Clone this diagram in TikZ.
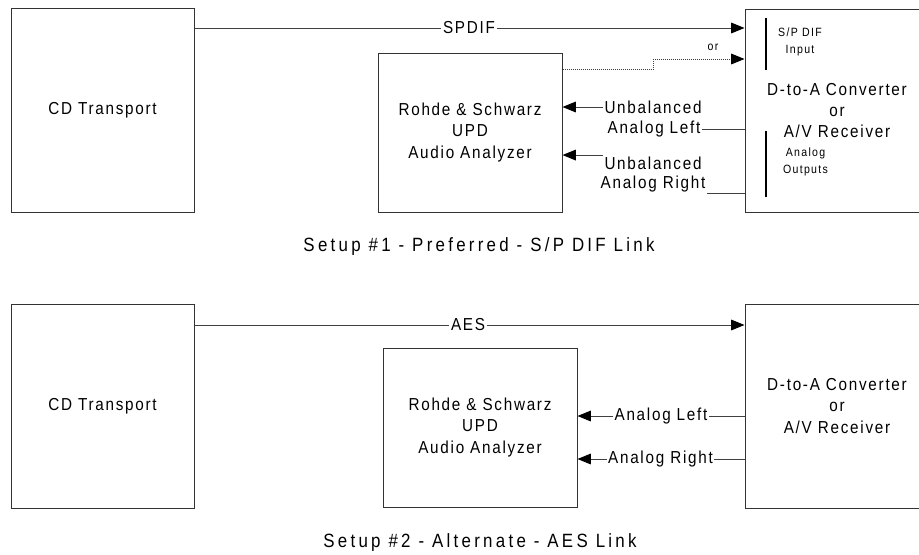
\documentclass[tikz,border=0pt]{standalone}
\usepackage{fontspec}
\setmainfont[LetterSpace=10, FakeStretch=0.88]{Liberation Sans}
\newfontfamily\captionface[LetterSpace=17, FakeStretch=0.88]{Liberation Sans}
\newfontfamily\smallface[LetterSpace=11, FakeStretch=0.88]{Liberation Sans}
\usetikzlibrary{arrows.meta}

\newcommand{\boxfont}{\fontsize{13}{16}\selectfont}
\newcommand{\notefont}{\smallface\fontsize{9}{12.75}\selectfont}
\newcommand{\capfont}{\captionface\fontsize{14.4}{16}\selectfont}

\begin{document}
\begin{tikzpicture}[x=0.75pt, y=-0.75pt,
        unit/.style={draw=black!80, line width=0.75pt, align=center, inner sep=0pt, font=\boxfont},
        lbl/.style={inner sep=1pt, font=\boxfont, align=center},
        note/.style={inner sep=0pt, font=\notefont, align=center},
        wire/.style={draw=black!75, line width=0.75pt},
        arr/.style={wire, -{Triangle[length=10pt,width=8pt,black]}},
        dotwire/.style={arr, dash pattern=on 0.75pt off 0.75pt},
        bar/.style={draw=black, line width=1.5pt}]
        \clip (0,0) rectangle (919,554);

% Setup 1
\node[unit, minimum width=137.25pt, minimum height=153pt] (cdA) at (102.5,110) {CD Transport};
\node[unit, minimum width=138pt, minimum height=119.25pt] (anaA) at (470,132.5) {Rohde \& Schwarz\\UPD\\Audio Analyzer};
\node[unit, minimum width=138pt, minimum height=152.25pt] (dacA) at (837,110.5) {D-to-A Converter\\or\\A/V Receiver};
\draw[bar] (766,18) -- (766,70);
\draw[bar] (766,131) -- (766,197);
\node[note] (spdifin) at (800,41.5) {S/P DIF\\Input};
\node[note] (anaout) at (805.5,161.5) {Analog\\Outputs};

\node[lbl] (spdif) at (469,28) {SPDIF};
\draw[wire] (cdA.east |- spdif) -- (spdif.west);
\draw[arr] (spdif.east) -- (spdif -| dacA.west);

\coordinate (orA1) at (653,69);
\coordinate (orA2) at (653,59);
\draw[dotwire] (anaA.east |- orA1) -- (orA1) -- (orA2) -- (orA2 -| dacA.west);
\node[note] (orA) at (713,47) {or};

\node[lbl] (ulA1) at (653,107) {Unbalanced};
\node[lbl] (ulA2) at (654,129) {Analog Left};
\draw[arr] (ulA1.west) -- (ulA1.west -| anaA.east);
\draw[wire] (ulA2.east) -- (ulA2.east -| dacA.west);
\node[lbl] (urA1) at (653,163) {Unbalanced};
\node[lbl] (urA2) at (653,184) {Analog Right};
\draw[arr] (urA1.north west) -- (urA1.north west -| anaA.east);
\draw[wire] (urA2.south east) -- (urA2.south east -| dacA.west);

\node[font=\capfont] (capA) at (479,247) {Setup \#1 - Preferred - S/P DIF Link};

% Setup 2
\node[unit, minimum width=137.25pt, minimum height=153pt] (cdB) at (102.5,406) {CD Transport};
\node[unit, minimum width=145.5pt, minimum height=119.25pt] (anaB) at (480,427.5) {Rohde \& Schwarz\\UPD\\Audio Analyzer};
\node[unit, minimum width=138pt, minimum height=153pt] (dacB) at (837,406) {D-to-A Converter\\or\\A/V Receiver};

\node[lbl] (aes) at (468,325) {AES};
\draw[wire] (cdB.east |- aes) -- (aes.west);
\draw[arr] (aes.east) -- (aes -| dacB.west);

\node[lbl] (alB) at (661,416) {Analog Left};
\draw[arr] (alB.west) -- (alB.west -| anaB.east);
\draw[wire] (alB.east) -- (alB.east -| dacB.west);
\node[lbl] (arB) at (660.5,459) {Analog Right};
\draw[arr] (arB.west) -- (arB.west -| anaB.east);
\draw[wire] (arB.east) -- (arB.east -| dacB.west);

\node[font=\capfont] (capB) at (480,543) {Setup \#2 - Alternate - AES Link};

    \end{tikzpicture}
\end{document}
